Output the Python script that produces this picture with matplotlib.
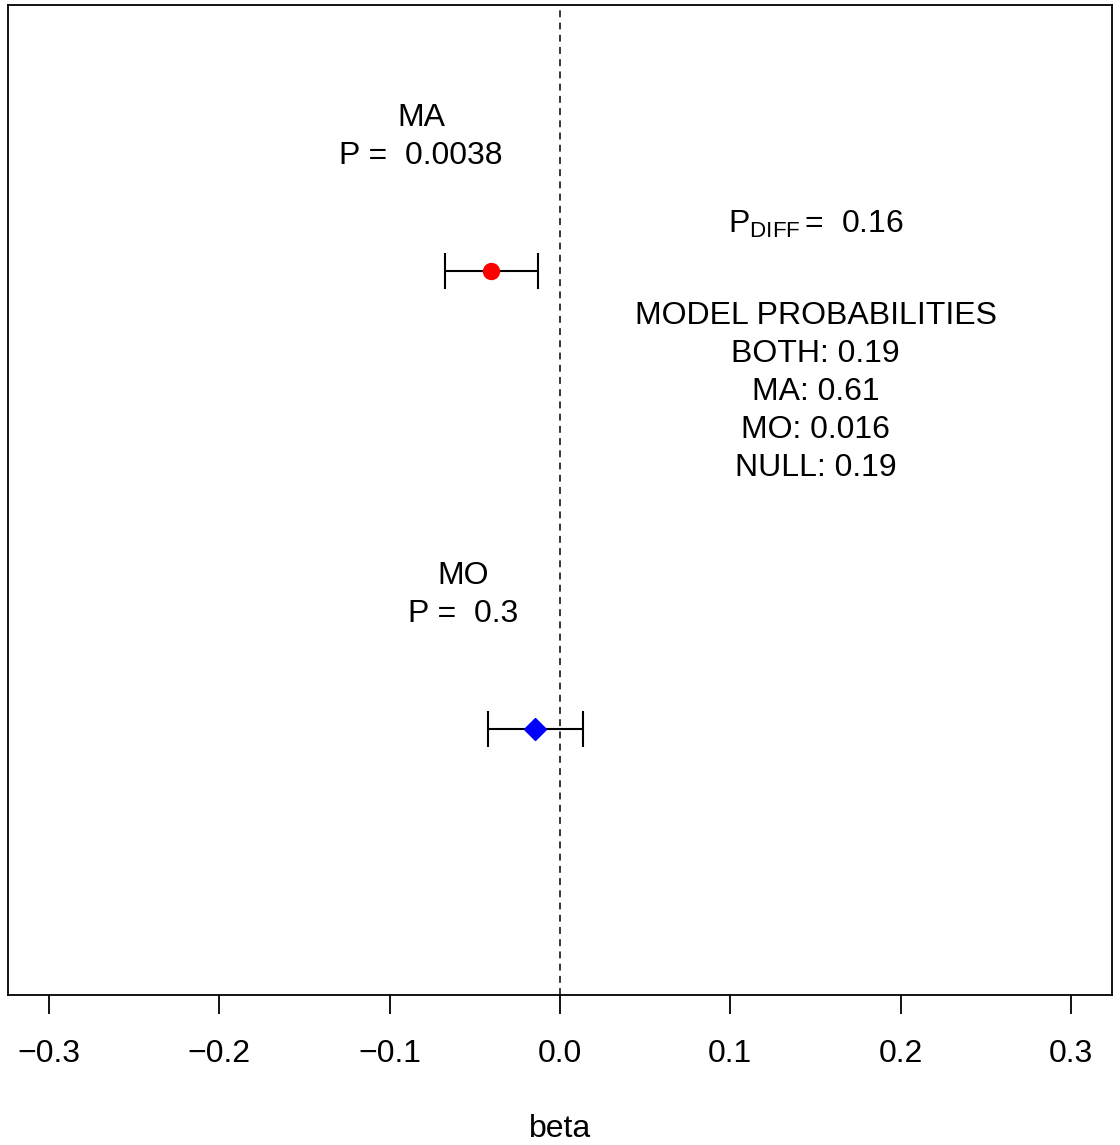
import matplotlib
matplotlib.use("Agg")
import matplotlib.pyplot as plt

plt.rcParams["font.family"] = ["Liberation Sans", "DejaVu Sans"]
plt.rcParams["mathtext.fontset"] = "custom"
plt.rcParams["mathtext.rm"] = "Liberation Sans"
plt.rcParams["mathtext.it"] = "Liberation Sans"

# ── data ──────────────────────────────────────────────────────────────────────
groups = ["MA", "MO"]
y_pos = [2, 1]
beta = [-0.0405, -0.0147]
ci_low = [-0.0675, -0.0423]
ci_high = [-0.0129, 0.0135]
p_values = ["0.0038", "0.3"]
label_x = [-0.0815, -0.057]
marker_style = ["o", "D"]
marker_color = ["#FF0000", "#0000FF"]

p_diff = "0.16"
model_names = ["BOTH", "MA", "MO", "NULL"]
model_probs = ["0.19", "0.61", "0.016", "0.19"]

x_ticks = [-0.3, -0.2, -0.1, 0.0, 0.1, 0.2, 0.3]
x_tick_labels = ["\u22120.3", "\u22120.2", "\u22120.1", "0.0", "0.1", "0.2", "0.3"]

# ── figure ────────────────────────────────────────────────────────────────────
fig = plt.figure(figsize=(11.2, 11.45), dpi=100)
ax = fig.add_axes([0.00714, 0.131, 0.98572, 0.8646])
ax.set_xlim(-0.324, 0.324)
ax.set_ylim(0.42, 2.58)

ax.axvline(0, color="black", lw=1.1, linestyle=(0, (4.5, 3.5)))

FS = 23
dy = -0.004  # small nudge so text baselines sit like the R output
for i in range(len(groups)):
    xerr = [[beta[i] - ci_low[i]], [ci_high[i] - beta[i]]]
    ax.errorbar(beta[i], y_pos[i], xerr=xerr, fmt="none", ecolor="black",
                elinewidth=1.5, capsize=13, capthick=1.5, zorder=2)
    ax.plot(beta[i], y_pos[i], marker=marker_style[i], color=marker_color[i],
            markersize=11.5 if marker_style[i] == "o" else 11, linestyle="none", zorder=3)
    ax.text(label_x[i], y_pos[i] + 0.338 + dy, groups[i], ha="center", va="center", fontsize=FS)
    ax.text(label_x[i], y_pos[i] + 0.255 + dy, "P =  " + p_values[i], ha="center", va="center", fontsize=FS)

ax.text(0.15, 2.105 + dy, r"P$_{\mathrm{DIFF}}\,$=  " + p_diff, ha="center", va="center", fontsize=FS)

lines = ["MODEL PROBABILITIES"] + [f"{n}: {p}" for n, p in zip(model_names, model_probs)]
for k, line in enumerate(lines):
    ax.text(0.15, 1.906 - k * 0.0833 + dy, line, ha="center", va="center", fontsize=FS)

ax.set_yticks([])
ax.set_xticks(x_ticks)
ax.set_xticklabels(x_tick_labels, fontsize=FS)
ax.tick_params(axis="x", length=14, width=1.3, pad=18)
ax.set_xlabel("beta", fontsize=FS, labelpad=32)
for s in ax.spines.values():
    s.set_linewidth(1.3)

fig.savefig("out.png", dpi=100)
